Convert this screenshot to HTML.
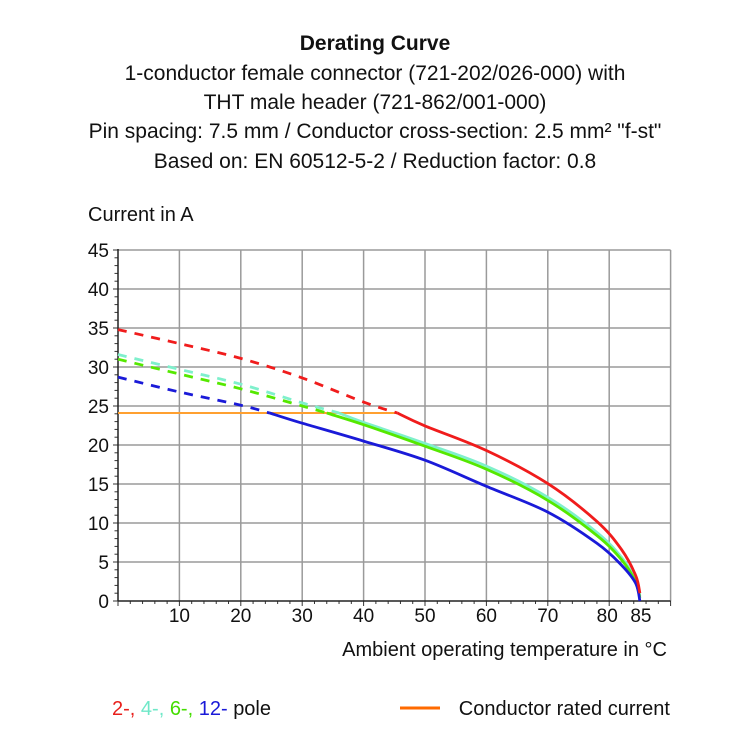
<!DOCTYPE html>
<html><head><meta charset="utf-8"><style>
body{margin:0;background:#fff}
svg{display:block}
text{font-family:"Liberation Sans Narrow","Liberation Sans",sans-serif;fill:#111}
</style></head><body>
<svg id="s" width="750" height="750" viewBox="0 0 750 750" xmlns="http://www.w3.org/2000/svg">
<g font-size="21" text-anchor="middle">
<text x="375" y="50" font-weight="bold">Derating Curve</text>
<text x="375" y="80">1-conductor female connector (721-202/026-000) with</text>
<text x="375" y="109">THT male header (721-862/001-000)</text>
<text x="375" y="138">Pin spacing: 7.5 mm / Conductor cross-section: 2.5 mm² "f-st"</text>
<text x="375" y="168">Based on: EN 60512-5-2 / Reduction factor: 0.8</text>
</g>
<text x="88" y="221" font-size="20">Current in A</text>
<text x="667" y="656" font-size="20" text-anchor="end">Ambient operating temperature in °C</text>
<text x="112" y="715" font-size="20"><tspan fill="#e8201c">2-, </tspan><tspan fill="#6fe8c8">4-, </tspan><tspan fill="#44dd00">6-, </tspan><tspan fill="#1a1ad8">12- </tspan><tspan>pole</tspan></text>
<line x1="400" y1="708" x2="440" y2="708" stroke="#ff6a00" stroke-width="3"/>
<text x="670" y="715" font-size="20" text-anchor="end">Conductor rated current</text>
<g id="g"></g>
</svg>
<script>
var X=function(t){return 118+6.14*t},Y=function(i){return 601-7.8*i};
var g=document.getElementById('g'),h='';
for(var t=10;t<=90;t+=10)h+='<line x1="'+X(t)+'" y1="'+Y(45)+'" x2="'+X(t)+'" y2="601" stroke="#9a9a9a" stroke-width="1.5"/>';
for(var i=5;i<=45;i+=5)h+='<line x1="118" y1="'+Y(i)+'" x2="'+X(90)+'" y2="'+Y(i)+'" stroke="#9a9a9a" stroke-width="1.5"/>';
for(var i=0;i<=45;i++)h+='<line x1="'+(i%5?114.5:113)+'" y1="'+Y(i)+'" x2="118" y2="'+Y(i)+'" stroke="#333" stroke-width="1"/>';
for(var t=0;t<=90;t+=2)h+='<line x1="'+X(t)+'" y1="601" x2="'+X(t)+'" y2="'+(t%10?604:606)+'" stroke="#333" stroke-width="1"/>';
h+='<line x1="118" y1="'+(Y(45)-1)+'" x2="118" y2="601" stroke="#222" stroke-width="1.5"/><line x1="118" y1="601" x2="'+X(90)+'" y2="601" stroke="#222" stroke-width="1.5"/>';
for(var i=0;i<=45;i+=5)h+='<text x="109" y="'+(Y(i)+7)+'" font-size="19" text-anchor="end">'+i+'</text>';
var xl=[[10,X(10)],[20,X(20)],[30,X(30)],[40,X(40)],[50,X(50)],[60,X(60)],[70,X(70)],[80,X(80)-2],[85,X(85)+1]];
xl.forEach(function(a){h+='<text x="'+a[1]+'" y="622" font-size="19" text-anchor="middle">'+a[0]+'</text>'});
function P(pts){
 var q=pts.map(function(p){return [X(p[0]),Y(p[1])]});
 var d='M'+q[0][0].toFixed(1)+' '+q[0][1].toFixed(1);
 for(var k=0;k<q.length-1;k++){
  var p0=q[k-1]||q[k],p1=q[k],p2=q[k+1],p3=q[k+2]||q[k+1];
  var c1=[p1[0]+(p2[0]-p0[0])/6,p1[1]+(p2[1]-p0[1])/6],c2=[p2[0]-(p3[0]-p1[0])/6,p2[1]-(p3[1]-p1[1])/6];
  d+=' C'+c1[0].toFixed(1)+' '+c1[1].toFixed(1)+' '+c2[0].toFixed(1)+' '+c2[1].toFixed(1)+' '+p2[0].toFixed(1)+' '+p2[1].toFixed(1);
 }
 return d;}
function line(pts,c,d){h+='<path d="'+P(pts)+'" fill="none" stroke="'+c+'" stroke-width="2.8" '+(d?'stroke-dasharray="9 8"':'')+' stroke-linejoin="round"/>'}
h+='<line x1="118" y1="'+Y(24.1)+'" x2="'+X(45.5)+'" y2="'+Y(24.1)+'" stroke="#ffa030" stroke-width="2"/>';
line([[0,31.6],[10,29.7],[20,27.8],[30,25.4],[36,24.1]],'#7ff0cc',1);
line([[36,24.1],[40,22.9],[50,20.2],[60,17.3],[70,13.3],[78,8.8],[82,5.6],[84.2,2.8],[85,0.6]],'#7ff0cc');
line([[0,31.0],[10,29.1],[20,27.2],[30,25.0],[34,24.1]],'#55e800',1);
line([[34,24.1],[40,22.6],[50,19.85],[60,16.9],[70,12.9],[78,8.4],[82,5.3],[84.2,2.6],[85,0.4]],'#55e800');
line([[0,28.7],[10,26.8],[20,25.1],[24.7,24.1]],'#1a1ad8',1);
line([[24.7,24.1],[30,22.8],[40,20.5],[50,18.05],[60,14.7],[70,11.4],[78,7.4],[82,4.6],[84.3,2.3],[85,0]],'#1a1ad8');
line([[0,34.8],[10,33.0],[20,31.1],[30,28.6],[40,25.5],[45.5,24.1]],'#f01c1c',1);
line([[45.5,24.1],[50,22.45],[60,19.3],[70,15.05],[78,10.2],[82,6.6],[84.3,3.3],[85,1.0]],'#f01c1c');
g.innerHTML=h;
</script>
</body></html>
